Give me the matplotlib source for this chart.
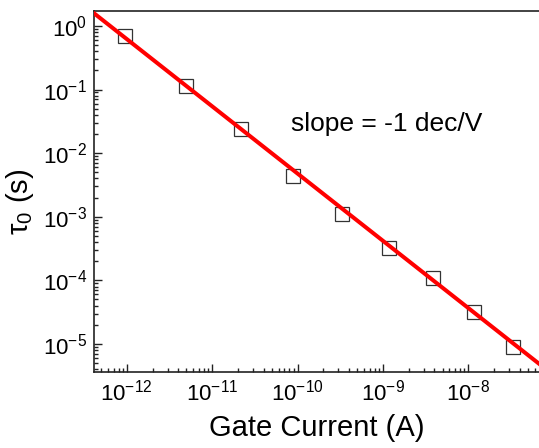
import matplotlib
matplotlib.use("Agg")
import matplotlib.pyplot as plt
from matplotlib.ticker import LogLocator, FixedLocator

plt.rcParams['font.family'] = ['Liberation Sans', 'DejaVu Sans']
plt.rcParams['mathtext.fontset'] = 'custom'
plt.rcParams['mathtext.rm'] = 'Liberation Sans'
plt.rcParams['mathtext.it'] = 'Liberation Sans:italic'
plt.rcParams['mathtext.bf'] = 'Liberation Sans:bold'
plt.rcParams['axes.unicode_minus'] = False

# Data
gate_current = [0.955e-12, 4.87e-12, 2.18e-11, 8.87e-11, 3.34e-10,
                1.17e-9, 3.83e-9, 1.17e-8, 3.36e-8]
tau0 = [0.70, 0.1135, 0.0236, 4.34e-3, 1.12e-3,
        3.27e-4, 1.07e-4, 3.13e-5, 8.8e-6]
fit_x = [4.13e-13, 6.9e-8]
fit_y = [1.585, 4.75e-6]
x_ticks = [1e-12, 1e-11, 1e-10, 1e-9, 1e-8]
y_ticks = [1e-5, 1e-4, 1e-3, 1e-2, 1e-1, 1e0]

W, H = 539, 448
fig = plt.figure(figsize=(W / 100, H / 100), dpi=100)
left, right, top, bottom = 94, 540, 11, 371.7
ax = fig.add_axes([left / W, (H - bottom) / H, (right - left) / W, (bottom - top) / H])

ax.plot(fit_x, fit_y, color='#ff0000', lw=2.9, zorder=3)
ax.plot(gate_current, tau0, linestyle='none', marker='s', markersize=9.5,
        markerfacecolor='none', markeredgecolor='#333333', markeredgewidth=0.9, zorder=2)

ax.set_xscale('log')
ax.set_yscale('log')
ax.set_xlim(4.13e-13, 6.9e-8)
ax.set_ylim(3.66e-6, 1.72)

ax.xaxis.set_major_locator(FixedLocator(x_ticks))
ax.yaxis.set_major_locator(FixedLocator(y_ticks))
ax.xaxis.set_minor_locator(LogLocator(base=10, subs=range(2, 10), numticks=20))
ax.yaxis.set_minor_locator(LogLocator(base=10, subs=range(2, 10), numticks=20))

ax.tick_params(which='both', direction='in', labelsize=16, width=1.0, color='#222222')
ax.tick_params(which='major', length=6)
ax.tick_params(which='minor', length=3)
ax.tick_params(axis='x', pad=6)
ax.tick_params(axis='y', pad=5)

for s in ax.spines.values():
    s.set_linewidth(1.2)
    s.set_color('#222222')

ax.set_xlabel('Gate Current (A)', fontsize=21, labelpad=6)
ax.set_ylabel(r'$\mathregular{\tau_0}$ (s)', fontsize=21)
ax.yaxis.set_label_coords(-0.13, 0.47)

ax.text(0.442, 0.667, 'slope = -1 dec/V', transform=ax.transAxes,
        fontsize=19, ha='left', va='baseline')

fig.savefig('out.png', dpi=100)
